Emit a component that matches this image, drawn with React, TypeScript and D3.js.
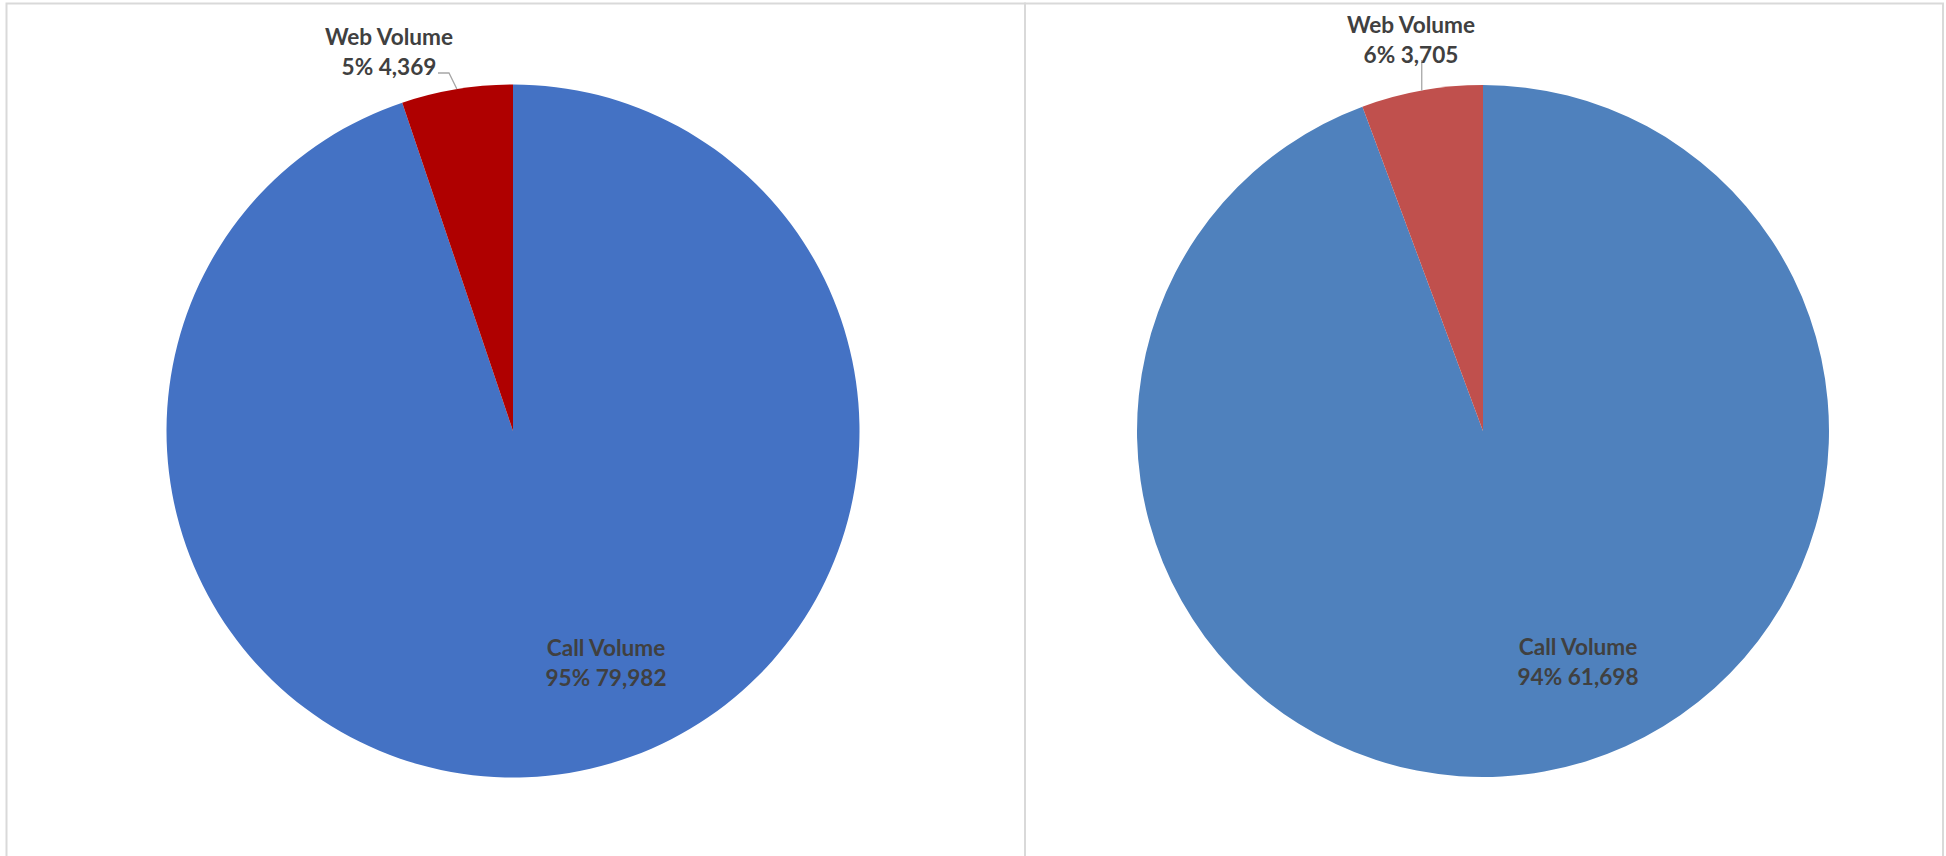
import React from "react";
import * as d3 from "d3";

const categories = ["Call Volume", "Web Volume"];
const leftValues = [79982, 4369];
const rightValues = [61698, 3705];
const leftColors = ["#4472C4", "#AF0000"];
const rightColors = ["#4F81BD", "#C0504D"];

const W = 1946;
const H = 856;
const FONT = "Lato, 'Open Sans', sans-serif";
const TEXT = "#404040";

type PieProps = {
  values: number[];
  colors: string[];
  cx: number;
  cy: number;
  r: number;
  webLabel: { x: number; y: number; leader: "elbow" | "vertical" };
  callLabel: { x: number; y: number };
};

function Pie({ values, colors, cx, cy, r, webLabel, callLabel }: PieProps) {
  const total = d3.sum(values);
  const pie = d3.pie<number>().sort(null).value((d) => d);
  const arcs = pie(values);
  const arc = d3.arc<d3.PieArcDatum<number>>().innerRadius(0).outerRadius(r);
  const edge = d3.arc<d3.PieArcDatum<number>>().innerRadius(r).outerRadius(r);
  const pct = d3.format(".0%");
  const num = d3.format(",");
  const webArc = arcs[1];
  const [ex, ey] = edge.centroid(webArc);
  const webEnd: [number, number] = [cx + ex, cy + ey];
  const lbl = (i: number) => `${pct(values[i] / total)} ${num(values[i])}`;
  let leaderPts: [number, number][];
  if (webLabel.leader === "elbow") {
    leaderPts = [
      [webLabel.x + 49, webLabel.y + 28],
      [webLabel.x + 60, webLabel.y + 28],
      webEnd,
    ];
  } else {
    leaderPts = [[webEnd[0], webLabel.y + 27], webEnd];
  }
  return (
    <g>
      <g transform={`translate(${cx},${cy})`}>
        {arcs.map((a, i) => (
          <path key={categories[i]} d={arc(a) || ""} fill={colors[i]} />
        ))}
      </g>
      <path
        d={d3.line()(leaderPts) || ""}
        fill="none"
        stroke="#A6A6A6"
        strokeWidth={1.3}
      />
      <g fontFamily={FONT} fontWeight={700} fontSize={22.6} fill={TEXT} textAnchor="middle">
        <text x={webLabel.x} y={webLabel.y}>{categories[1]}</text>
        <text x={webLabel.x} y={webLabel.y + 29.5}>{lbl(1)}</text>
        <text x={callLabel.x} y={callLabel.y}>{categories[0]}</text>
        <text x={callLabel.x} y={callLabel.y + 30}>{lbl(0)}</text>
      </g>
    </g>
  );
}

export default function App() {
  return (
    <svg
      width={W}
      height={H}
      style={{ position: "absolute", left: 0, top: 0, background: "#fff" }}
    >
      <rect x={0} y={0} width={W} height={H} fill="#fff" />
      <rect x={6.5} y={3.5} width={1018.5} height={H + 10} fill="none" stroke="#D9D9D9" strokeWidth={2} />
      <rect x={1025} y={3.5} width={918} height={H + 10} fill="none" stroke="#D9D9D9" strokeWidth={2} />
      <Pie
        values={leftValues}
        colors={leftColors}
        cx={513}
        cy={431}
        r={346.5}
        webLabel={{ x: 389, y: 45, leader: "elbow" }}
        callLabel={{ x: 606, y: 656 }}
      />
      <Pie
        values={rightValues}
        colors={rightColors}
        cx={1483}
        cy={431}
        r={346}
        webLabel={{ x: 1411, y: 33, leader: "vertical" }}
        callLabel={{ x: 1578, y: 655 }}
      />
    </svg>
  );
}
